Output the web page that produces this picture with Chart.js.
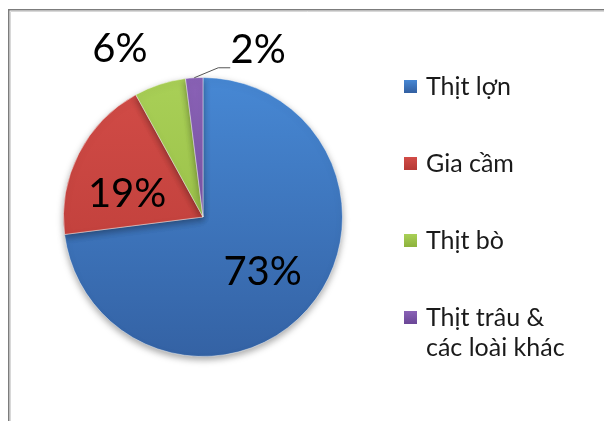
<!DOCTYPE html>
<html>
<head>
<meta charset="utf-8">
<script src="https://cdn.jsdelivr.net/npm/chart.js@4"></script>
<style>
  html, body { margin: 0; padding: 0; background: #fff; }
  canvas { display: block; }
</style>
</head>
<body>
<canvas id="meatPie" width="604" height="421"></canvas>
<script>
// Cơ cấu tiêu thụ thịt (%)
var categories = ['Thịt lợn', 'Gia cầm', 'Thịt bò', 'Thịt trâu &\ncác loài khác'];
var shares = [73, 19, 6, 2];

// top / bottom shades of each slice (Excel 2007 look)
var topColors = ['#4788d4', '#d24c47', '#a9d057', '#8a62b6'];
var bottomColors = ['#3462a4', '#b83a36', '#8fb43e', '#6c4898'];

var FONT = 'Lato, "Open Sans", sans-serif';

function sliceFill(context) {
    var chart = context.chart;
    var area = chart.chartArea;
    if (!area) return topColors[context.dataIndex];
    var g = chart.ctx.createLinearGradient(0, area.top, 0, area.bottom);
    g.addColorStop(0, topColors[context.dataIndex]);
    g.addColorStop(1, bottomColors[context.dataIndex]);
    return g;
}

// frame round the chart (only top and left edges are visible)
var framePlugin = {
    id: 'frame',
    beforeDraw: function (chart) {
        let ctx = chart.ctx;
        ctx.save();
        ctx.strokeStyle = '#d8d8d8';
        ctx.lineWidth = 1;
        ctx.beginPath();
        ctx.moveTo(10.5, 421); ctx.lineTo(10.5, 11.5); ctx.lineTo(604, 11.5);
        ctx.stroke();
        ctx.strokeStyle = '#7c7c7c';
        ctx.lineWidth = 1.5;
        ctx.beginPath();
        ctx.moveTo(8.75, 421); ctx.lineTo(8.75, 9.75); ctx.lineTo(604, 9.75);
        ctx.stroke();
        ctx.restore();
    }
};

var shadowPlugin = {
    id: 'pieShadow',
    beforeDatasetsDraw: function (chart) {
        let ctx = chart.ctx;
        ctx.save();
        ctx.shadowColor = 'rgba(0,0,0,0.35)';
        ctx.shadowBlur = 7;
        ctx.shadowOffsetY = 3;
    },
    afterDatasetsDraw: function (chart) {
        chart.ctx.restore();
    }
};

// percent labels: inside for big slices, outside for the small ones
var outsideOffsets = { 2: [-40, -35], 3: [64, -28] };
var insideNudge = { 0: [0, 0], 1: [-5, 10] };

var labelPlugin = {
    id: 'pctLabels',
    afterDatasetsDraw: function (chart) {
        let ctx = chart.ctx;
        let arcs = chart.getDatasetMeta(0).data;
        ctx.save();
        ctx.font = '40px ' + FONT;
        ctx.fillStyle = '#000';
        ctx.textAlign = 'center';
        ctx.textBaseline = 'middle';
        arcs.forEach(function (arc, i) {
            let p = arc.getProps(['x', 'y', 'startAngle', 'endAngle', 'outerRadius']);
            let mid = (p.startAngle + p.endAngle) / 2;
            let text = shares[i] + '%';
            let off = outsideOffsets[i];
            if (off) {
                let ex = p.x + Math.cos(mid) * p.outerRadius;
                let ey = p.y + Math.sin(mid) * p.outerRadius;
                let lx = ex + off[0], ly = ey + off[1];
                if (i === 3) {
                    ctx.strokeStyle = '#555';
                    ctx.lineWidth = 1;
                    ctx.beginPath();
                    ctx.moveTo(ex, ey);
                    ctx.lineTo(ex + 24, ey - 10);
                    ctx.lineTo(ex + 36, ey - 10);
                    ctx.stroke();
                }
                ctx.fillText(text, lx, ly);
            } else {
                let r = p.outerRadius * 0.57;
                let n = insideNudge[i] || [0, 0];
                ctx.fillText(text, p.x + Math.cos(mid) * r + n[0], p.y + Math.sin(mid) * r + 3 + n[1]);
            }
        });
        ctx.restore();
    }
};

// legend on the right, drawn by hand so the last entry can wrap
var legendPlugin = {
    id: 'sideLegend',
    afterDraw: function (chart) {
        let ctx = chart.ctx;
        ctx.save();
        ctx.font = '25px ' + FONT;
        ctx.textBaseline = 'alphabetic';
        ctx.textAlign = 'left';
        chart.data.labels.forEach(function (label, i) {
            let cy = 86 + i * 77;
            let g = ctx.createLinearGradient(0, cy - 6, 0, cy + 6);
            g.addColorStop(0, topColors[i]);
            g.addColorStop(1, bottomColors[i]);
            ctx.fillStyle = g;
            ctx.fillRect(404, cy - 6, 13, 13);
            ctx.fillStyle = '#1a1a1a';
            label.split('\n').forEach(function (line, j) {
                ctx.fillText(line, 426, cy + 9 + j * 30);
            });
        });
        ctx.restore();
    }
};

var config = {
    type: 'pie',
    data: {
        labels: categories,
        datasets: [{
            data: shares,
            backgroundColor: sliceFill,
            borderColor: 'rgba(255,255,255,0.45)',
            borderWidth: 1
        }]
    },
    options: {
        responsive: false,
        animation: false,
        rotation: 0,
        layout: {
            padding: { left: 63, right: 261, top: 77, bottom: 64 }
        },
        plugins: {
            legend: { display: false },
            tooltip: { enabled: false },
            title: { display: false }
        }
    },
    plugins: [framePlugin, shadowPlugin, labelPlugin, legendPlugin]
};

new Chart(document.getElementById('meatPie').getContext('2d'), config);
</script>
</body>
</html>
